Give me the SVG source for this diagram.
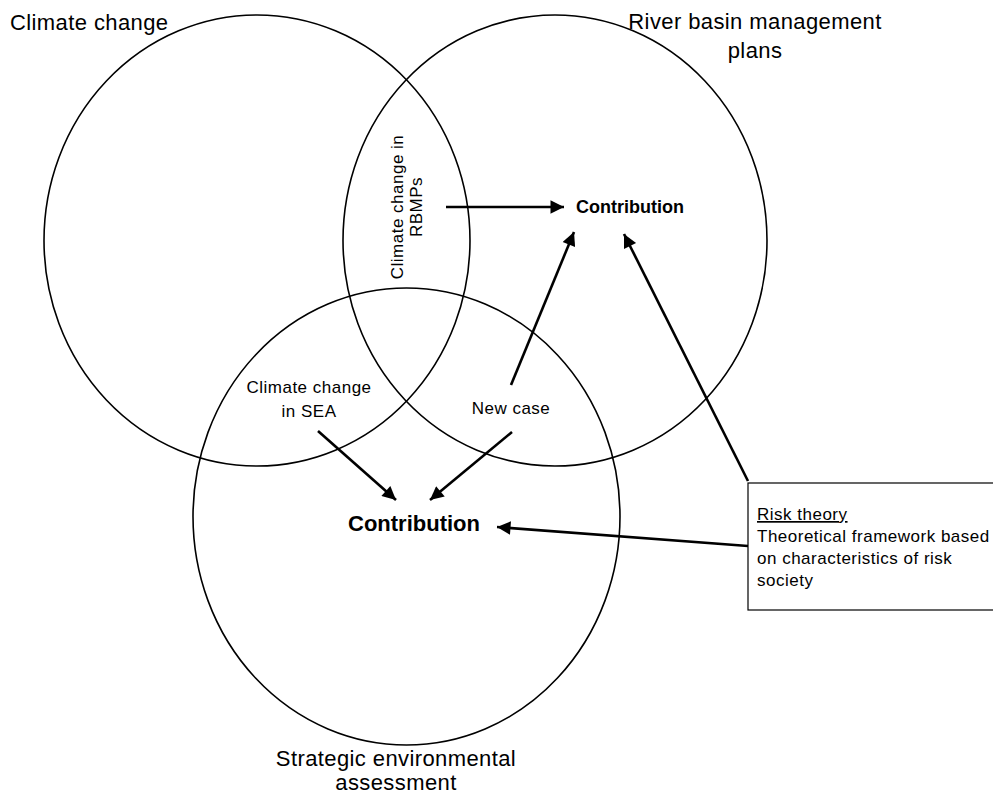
<svg xmlns="http://www.w3.org/2000/svg" width="993" height="794" viewBox="0 0 993 794">
  <defs>
    <marker id="head" viewBox="0 0 10 10" refX="10" refY="5" markerWidth="7.7" markerHeight="5.2" markerUnits="strokeWidth" orient="auto">
      <path d="M0,0 L10,5 L0,10 Z" fill="#000"/>
    </marker>
    <style>
      .ring { fill: none; stroke: #000; stroke-width: 1.6; }
      .link { fill: none; stroke: #000; stroke-width: 2.6; marker-end: url(#head); }
      text { font-family: "Liberation Sans", Arial, sans-serif; fill: #000; }
      .title { font-size: 22px; letter-spacing: 0.4px; }
      .lbl { font-size: 17px; letter-spacing: 0.5px; }
      .bold-s { font-size: 18px; font-weight: bold; }
      .bold-l { font-size: 22px; font-weight: bold; }
    </style>
  </defs>
  <rect width="993" height="794" fill="#fff"/>

  <g id="set-climate">
    <ellipse class="ring" cx="257" cy="240.5" rx="213" ry="225.5"/>
    <text class="title" x="10" y="30">Climate change</text>
  </g>

  <g id="set-rbmp">
    <ellipse class="ring" cx="555" cy="240.5" rx="212" ry="225.5"/>
    <text class="title" x="755" y="29" text-anchor="middle">River basin management</text>
    <text class="title" x="755" y="58" text-anchor="middle">plans</text>
  </g>

  <g id="set-sea">
    <ellipse class="ring" cx="406.5" cy="516.5" rx="213.5" ry="228.5"/>
    <text class="title" x="396" y="766" text-anchor="middle">Strategic environmental</text>
    <text class="title" x="396" y="790" text-anchor="middle">assessment</text>
  </g>

  <g id="overlap-cc-rbmp">
    <text class="lbl" transform="translate(403,207) rotate(-90)" text-anchor="middle">Climate change in</text>
    <text class="lbl" transform="translate(422,207) rotate(-90)" text-anchor="middle">RBMPs</text>
  </g>

  <g id="overlap-cc-sea">
    <text class="lbl" x="309" y="393" text-anchor="middle">Climate change</text>
    <text class="lbl" x="309" y="417" text-anchor="middle">in SEA</text>
  </g>

  <g id="overlap-new-case">
    <text class="lbl" x="511" y="414" text-anchor="middle">New case</text>
  </g>

  <g id="contribution-rbmp">
    <text class="bold-s" x="576" y="213">Contribution</text>
  </g>

  <g id="contribution-sea">
    <text class="bold-l" x="348" y="531">Contribution</text>
  </g>

  <g id="risk-theory">
    <rect x="748" y="483" width="250" height="127" fill="#fff" stroke="#000" stroke-width="1.2"/>
    <text class="lbl" x="757" y="520" text-decoration="underline">Risk theory</text>
    <text class="lbl" x="757" y="542">Theoretical framework based</text>
    <text class="lbl" x="757" y="564">on characteristics of risk</text>
    <text class="lbl" x="757" y="586">society</text>
  </g>

  <g id="connectors">
    <line class="link" x1="446" y1="207" x2="564" y2="207"/>
    <line class="link" x1="511" y1="385" x2="574" y2="232"/>
    <line class="link" x1="748" y1="481" x2="624" y2="234"/>
    <line class="link" x1="318" y1="431" x2="396" y2="500"/>
    <line class="link" x1="512" y1="432" x2="430" y2="500"/>
    <line class="link" x1="748" y1="546" x2="497" y2="527"/>
  </g>
</svg>
